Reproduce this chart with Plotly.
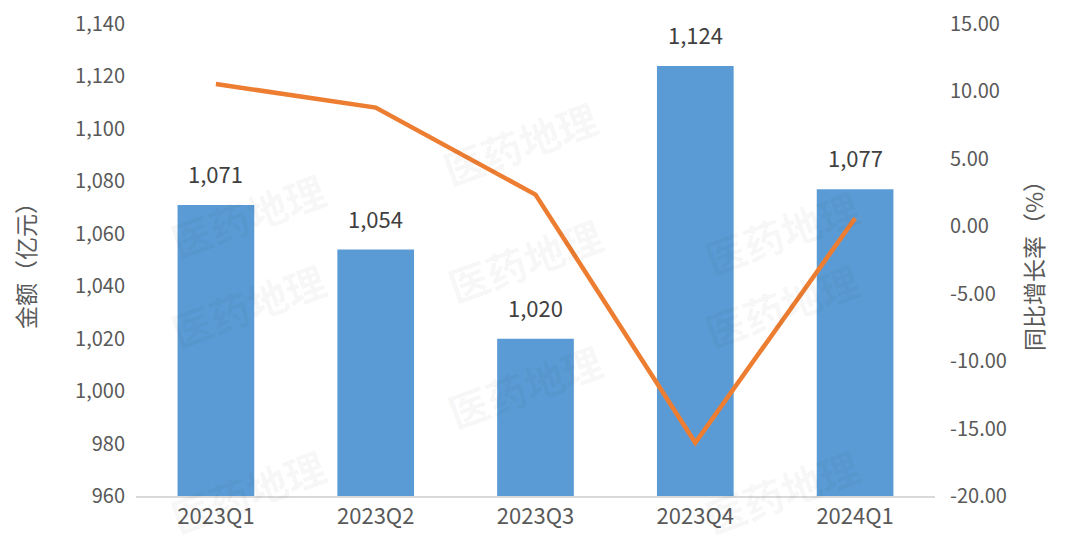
import plotly.graph_objects as go

quarters = ["2023Q1", "2023Q2", "2023Q3", "2023Q4", "2024Q1"]
amount = [1071, 1054, 1020, 1124, 1077]          # 金额（亿元）
yoy = [10.55, 8.8, 2.35, -16.05, 0.6]            # 同比增长率（%）
yoy_ticks = [-20, -15, -10, -5, 0, 5, 10, 15]
yoy_ticktext = ["-20.00", "-15.00", "-10.00", "-5.00", "0.00", "5.00", "10.00", "15.00"]

COLORS = {
    "bar": "#5B9BD5",
    "line": "#ED7D31",
    "tick": "#595959",
    "label": "#404040",
    "axis": "#D9D9D9",
}
FONT = "Microsoft YaHei, Noto Sans CJK SC, sans-serif"

fig = go.Figure()
fig.add_trace(go.Bar(
    x=quarters, y=amount, name="金额",
    marker=dict(color=COLORS["bar"], line=dict(width=0)),
    width=0.48,
))
fig.add_trace(go.Scatter(
    x=quarters, y=yoy, name="同比增长率", yaxis="y2",
    mode="lines", line=dict(color=COLORS["line"], width=4.5),
))

# data labels above bars
for q, v in zip(quarters, amount):
    fig.add_annotation(x=q, y=v, text=f"{v:,}", showarrow=False,
                       yanchor="bottom", yshift=14,
                       font=dict(size=22, color=COLORS["label"], family=FONT))

# faint watermarks (positions relative to the plot area)
marks = [(160, 155), (160, 360), (160, 548), (520, 82), (525, 258), (525, 442),
         (870, 172), (870, 360), (870, 548)]
for px, py in marks:
    fig.add_annotation(x=(px - 136) / 799, y=(495 - py) / 475,
                       xref="paper", yref="paper", text="<b>医药地理</b>",
                       showarrow=False, textangle=-20,
                       font=dict(size=40, color="rgba(0,0,0,0.045)", family=FONT))

fig.update_layout(
    width=1080, height=557,
    plot_bgcolor="white", paper_bgcolor="white",
    font=dict(family=FONT, color=COLORS["tick"]),
    margin=dict(l=128, r=153, t=16, b=69, autoexpand=False),
    showlegend=False,
    bargap=0.52,
    xaxis=dict(showline=True, linecolor=COLORS["axis"], linewidth=1.5,
               ticks="", tickfont=dict(size=22, color=COLORS["tick"]),
               showgrid=False, automargin=False),
    yaxis=dict(range=[960, 1140], dtick=20, tickformat=",",
               showgrid=False, zeroline=False, showline=False,
               tickfont=dict(size=20, color=COLORS["tick"]),
               ticklabelstandoff=10, automargin=False,
               ticklabeloverflow="allow",
               title=dict(text="金额（亿元）", standoff=32,
                          font=dict(size=23, color=COLORS["tick"]))),
    yaxis2=dict(range=[-20, 15], tickvals=yoy_ticks, ticktext=yoy_ticktext,
                overlaying="y", side="right",
                showgrid=False, zeroline=False, showline=False,
                tickfont=dict(size=20, color=COLORS["tick"]),
                ticklabelstandoff=14, automargin=False,
                ticklabeloverflow="allow",
                title=dict(text="同比增长率（%）", standoff=20,
                           font=dict(size=23, color=COLORS["tick"]))),
)

fig.write_html("out.html")
